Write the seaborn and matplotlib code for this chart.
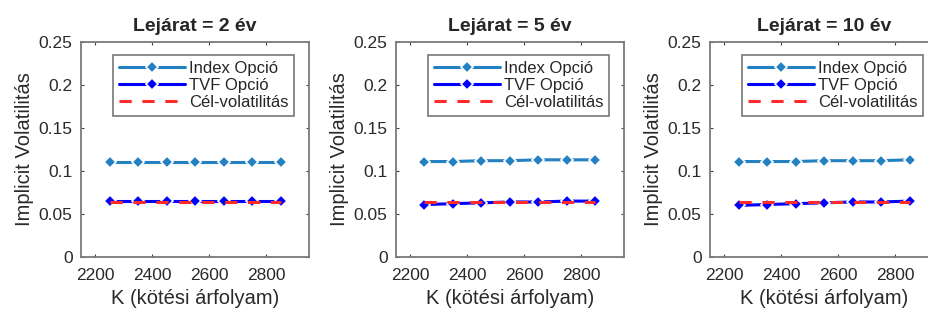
import numpy as np
import pandas as pd
import seaborn as sns
import matplotlib.pyplot as plt

# strike prices and maturities
strikes = [2250, 2350, 2450, 2550, 2650, 2750, 2850]
maturities = [2, 5, 10]

# implied vols
index_2 = [0.111, 0.111, 0.111, 0.111, 0.111, 0.111, 0.111]
tvf_2 = [0.065, 0.065, 0.065, 0.065, 0.065, 0.065, 0.065]
index_5 = [0.111, 0.111, 0.112, 0.112, 0.113, 0.113, 0.113]
tvf_5 = [0.061, 0.062, 0.063, 0.064, 0.064, 0.065, 0.065]
index_10 = [0.111, 0.111, 0.111, 0.112, 0.112, 0.112, 0.113]
tvf_10 = [0.060, 0.061, 0.062, 0.063, 0.064, 0.064, 0.065]
target_vol = [0.064, 0.064, 0.064, 0.064, 0.064, 0.064, 0.064]

index_vals = [index_2, index_5, index_10]
tvf_vals = [tvf_2, tvf_5, tvf_10]

sns.set_style("white")
plt.rcParams['font.family'] = ['Liberation Sans', 'DejaVu Sans']

fig = plt.figure(figsize=(9.29, 3.11), dpi=100)
W, H = 929, 311
lefts = [81, 396, 710]

for i, m in enumerate(maturities):
    ax = fig.add_axes([lefts[i] / W, (H - 257) / H, 228 / W, 215 / H])
    sns.lineplot(x=strikes, y=index_vals[i], ax=ax, color='#2381c2', lw=2.2,
                 marker='D', markersize=6, markeredgewidth=1.2, label='Index Opció')
    sns.lineplot(x=strikes, y=tvf_vals[i], ax=ax, color='#0000ff', lw=2.2,
                 marker='D', markersize=6, markeredgewidth=1.2, label='TVF Opció')
    sns.lineplot(x=strikes, y=target_vol, ax=ax, color='#ff2a2a', lw=2.2,
                 linestyle='--', label='Cél-volatilitás')
    ax.lines[-1].set_dashes([4, 3.5])
    ax.set_xlim(2150, 2950)
    ax.set_ylim(0, 0.25)
    ax.set_xticks([2200, 2400, 2600, 2800])
    ax.set_yticks([0, 0.05, 0.1, 0.15, 0.2, 0.25])
    ax.set_yticklabels(['0', '0.05', '0.1', '0.15', '0.2', '0.25'])
    ax.tick_params(direction='in', length=2.5, width=0.8, color='#404040',
                   labelsize=12.5, labelcolor='#2a2a2a', top=True, right=True,
                   bottom=True, left=True)
    ax.tick_params(axis='y', pad=6)
    ax.tick_params(axis='x', pad=8)
    for s in ax.spines.values():
        s.set_color('#7a7a7a')
        s.set_linewidth(1.3)
    ax.set_title(f'Lejárat = {m} év', fontsize=14, fontweight='bold', pad=8)
    ax.set_xlabel('K (kötési árfolyam)', fontsize=14.5, color='#2a2a2a', labelpad=4)
    ax.set_ylabel('Implicit Volatilitás', fontsize=14.5, color='#2a2a2a', labelpad=3)
    leg = ax.legend(loc='upper left', bbox_to_anchor=(0.14, 0.94), fontsize=12,
                    handlelength=4.0, frameon=True, fancybox=False,
                    borderpad=0.35, labelspacing=0.12, handletextpad=0.2,
                    borderaxespad=0)
    leg.get_frame().set_edgecolor('#555555')
    leg.get_frame().set_linewidth(1.2)

fig.savefig('out.png', dpi=100)
